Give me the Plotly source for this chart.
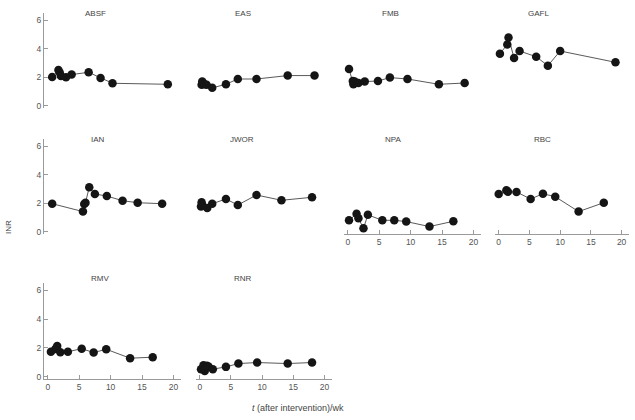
import plotly.graph_objects as go

# ---------------- data ----------------
panel_names = ["ABSF", "EAS", "FMB", "GAFL", "IAN", "JWOR", "NPA", "RBC", "RMV", "RNR"]

absf_t = [0.7, 1.7, 1.9, 2.1, 2.9, 3.8, 6.5, 8.4, 10.3, 19.1]
absf_inr = [2.02, 2.51, 2.33, 2.09, 2.0, 2.19, 2.35, 1.95, 1.58, 1.51]

eas_t = [0.3, 0.4, 0.8, 1.1, 2.0, 4.2, 6.1, 9.1, 14.1, 18.4]
eas_inr = [1.47, 1.70, 1.51, 1.47, 1.26, 1.51, 1.88, 1.88, 2.12, 2.12]

fmb_t = [0.2, 0.8, 0.9, 1.1, 1.7, 2.7, 4.8, 6.7, 9.5, 14.5, 18.6]
fmb_inr = [2.58, 1.74, 1.51, 1.70, 1.60, 1.70, 1.74, 1.98, 1.88, 1.51, 1.60]

gafl_t = [0.2, 1.4, 1.6, 2.5, 3.4, 6.1, 8.0, 10.0, 19.0]
gafl_inr = [3.65, 4.30, 4.79, 3.35, 3.84, 3.44, 2.81, 3.84, 3.05]

ian_t = [0.7, 5.6, 5.8, 6.0, 6.6, 7.5, 9.4, 11.9, 14.3, 18.2]
ian_inr = [1.97, 1.42, 1.95, 2.04, 3.12, 2.65, 2.51, 2.18, 2.04, 1.97]

jwor_t = [0.2, 0.4, 0.3, 1.2, 2.0, 4.2, 6.1, 9.1, 13.1, 18.0]
jwor_inr = [1.77, 1.88, 2.07, 1.67, 1.97, 2.30, 1.88, 2.58, 2.21, 2.42]

npa_t = [0.2, 1.4, 1.7, 2.5, 3.2, 5.5, 7.4, 9.3, 13.0, 16.8]
npa_inr = [0.81, 1.26, 0.95, 0.25, 1.19, 0.81, 0.81, 0.72, 0.37, 0.74]

rbc_t = [0.0, 1.25, 1.5, 2.9, 5.2, 7.2, 9.2, 13.0, 17.1]
rbc_inr = [2.65, 2.91, 2.81, 2.79, 2.30, 2.67, 2.46, 1.42, 2.04]

rmv_t = [0.5, 1.2, 1.5, 2.0, 3.2, 5.4, 7.3, 9.3, 13.1, 16.7]
rmv_inr = [1.74, 1.93, 2.14, 1.70, 1.74, 1.95, 1.68, 1.91, 1.29, 1.36]

rnr_t = [0.2, 0.6, 0.8, 1.15, 1.4, 2.1, 4.2, 6.2, 9.2, 14.1, 18.0]
rnr_inr = [0.53, 0.81, 0.41, 0.76, 0.71, 0.53, 0.69, 0.92, 0.99, 0.92, 0.99]

series_t = [absf_t, eas_t, fmb_t, gafl_t, ian_t, jwor_t, npa_t, rbc_t, rmv_t, rnr_t]
series_inr = [absf_inr, eas_inr, fmb_inr, gafl_inr, ian_inr, jwor_inr, npa_inr, rbc_inr, rmv_inr, rnr_inr]

x_ticks = [0, 5, 10, 15, 20]
y_ticks = [0, 2, 4, 6]
x_axis_title = "<i>t</i> (after intervention)/wk"
y_axis_title = "INR"

# ---------------- layout ----------------
W, H = 635, 420
col_left = [44, 196, 344, 495]
col_w = [137, 136, 137, 134]
rows = [(13, 108), (139, 234), (283, 379)]
title_y = [13, 140, 278]
title_x = [95, 243, 390, 538, 98, 242, 393, 542, 100, 243]


def px(xp):
    return xp / W


def py(yp):
    return 1 - yp / H


# positions of panels (row, col)
pos = [(0, 0), (0, 1), (0, 2), (0, 3), (1, 0), (1, 1), (1, 2), (1, 3), (2, 0), (2, 1)]
show_x = {8, 9, 6, 7}
show_y = {0, 4, 8}

font_family = "Liberation Sans, Arial, sans-serif"
fig = go.Figure()
layout = dict(
    width=W, height=H,
    margin=dict(l=0, r=0, t=0, b=0, pad=0),
    paper_bgcolor="white", plot_bgcolor="white",
    showlegend=False,
    font=dict(family=font_family, size=8, color="#555555"),
)
annotations = []

for i, name in enumerate(panel_names):
    r, c = pos[i]
    sfx = "" if i == 0 else str(i + 1)
    fig.add_trace(go.Scatter(
        x=series_t[i], y=series_inr[i],
        mode="lines+markers",
        line=dict(color="#5a5a5a", width=1),
        marker=dict(color="#151515", size=8.5),
        xaxis="x" + sfx, yaxis="y" + sfx,
        hoverinfo="skip", cliponaxis=False,
    ))
    top, bot = rows[r]
    sx = i in show_x
    sy = i in show_y
    layout["xaxis" + sfx] = dict(
        domain=[px(col_left[c]), px(col_left[c] + col_w[c])],
        anchor="y" + sfx, range=[-0.6, 21.2],
        showgrid=False, zeroline=False, automargin=False,
        showline=sx, linecolor="#9a9a9a", linewidth=1,
        ticks="inside" if sx else "", ticklen=4, tickcolor="#9a9a9a",
        tickvals=x_ticks, showticklabels=sx,
        tickfont=dict(size=8.5, color="#555555"),
        fixedrange=True,
    )
    layout["yaxis" + sfx] = dict(
        domain=[py(bot), py(top)], anchor="x" + sfx, range=[-0.15, 6.5],
        showgrid=False, zeroline=False, automargin=False,
        showline=sy, linecolor="#9a9a9a", linewidth=1,
        ticks="inside" if sy else "", ticklen=4, tickcolor="#9a9a9a",
        tickvals=y_ticks, showticklabels=sy,
        tickfont=dict(size=8.5, color="#555555"),
        fixedrange=True,
    )
    annotations.append(dict(
        text=name, x=px(title_x[i]), y=py(title_y[r]),
        xref="paper", yref="paper", showarrow=False,
        xanchor="center", yanchor="middle",
        font=dict(size=8, color="#444444"),
    ))

annotations.append(dict(
    text=y_axis_title, x=px(8), y=py(227), xref="paper", yref="paper",
    showarrow=False, textangle=-90, xanchor="center", yanchor="middle",
    font=dict(size=8, color="#444444"),
))
annotations.append(dict(
    text=x_axis_title, x=px(298), y=py(408), xref="paper", yref="paper",
    showarrow=False, xanchor="center", yanchor="middle",
    font=dict(size=9, color="#444444"),
))
layout["annotations"] = annotations
fig.update_layout(**layout)
fig.write_html(
    "out.html",
    config={"displayModeBar": False, "staticPlot": True},
    post_script="document.body.style.margin='0px';document.body.style.padding='0px';",
)
